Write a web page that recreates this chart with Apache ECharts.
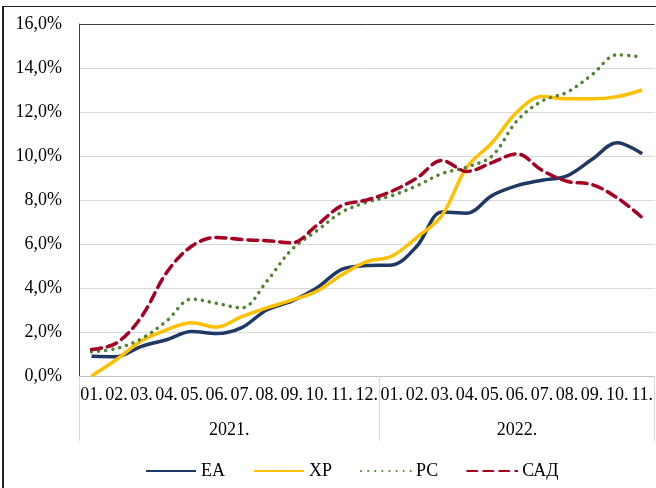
<!DOCTYPE html>
<html>
<head>
<meta charset="utf-8">
<script src="https://cdn.jsdelivr.net/npm/echarts@6/dist/echarts.min.js"></script>
<style>
  html, body { margin: 0; padding: 0; background: #fff; }
  #wrap { position: relative; width: 656px; height: 488px; overflow: hidden; }
  #frame { position: absolute; left: 2px; top: 6px; width: 800px; height: 600px;
           border-left: 2px solid #222; border-top: 1px solid #222; box-sizing: border-box; }
  #chart { position: absolute; left: 0; top: 0; width: 656px; height: 488px; }
</style>
</head>
<body>
<div id="wrap">
  <div id="frame"></div>
  <div id="chart"></div>
</div>
<script>
const months = ['01.','02.','03.','04.','05.','06.','07.','08.','09.','10.','11.','12.',
                '01.','02.','03.','04.','05.','06.','07.','08.','09.','10.','11.'];
const years = ['2021.', '2022.'];
const monthsPerYear = [12, 11];
const seriesNames = ['ЕА', 'ХР', 'РС', 'САД'];
const ea  = [0.9,0.88,1.35,1.65,2.02,1.93,2.2,3.0,3.4,4.0,4.85,5.02,5.05,5.9,7.45,7.4,8.2,8.65,8.9,9.1,9.85,10.6,10.1];
const xp  = [0.0,0.75,1.6,2.1,2.42,2.22,2.7,3.1,3.45,3.85,4.6,5.2,5.45,6.3,7.3,9.5,10.6,12.0,12.7,12.6,12.6,12.7,13.0];
const pc  = [1.1,1.25,1.7,2.5,3.5,3.3,3.1,4.3,5.75,6.6,7.45,7.9,8.2,8.65,9.2,9.5,10.0,11.6,12.5,12.9,13.7,14.6,14.5];
const cad = [1.2,1.5,2.7,4.7,5.9,6.3,6.2,6.15,6.05,6.85,7.75,8.0,8.4,9.0,9.8,9.3,9.7,10.1,9.35,8.85,8.7,8.1,7.2];
const yTicks = [0, 2, 4, 6, 8, 10, 12, 14, 16];

// year boundaries / centres derived from monthsPerYear
const bounds = [0];
monthsPerYear.forEach(n => bounds.push(bounds[bounds.length - 1] + n));
const centres = monthsPerYear.map((n, i) => bounds[i] + n / 2);

const font = 'Liberation Serif';
const fs = 18;
const chart = echarts.init(document.getElementById('chart'));
const smooth = 0.35;
chart.setOption({
  backgroundColor: 'transparent',
  animation: false,
  grid: { left: 79, top: 24, width: 579, height: 352, containLabel: false },
  legend: {
    left: 140, top: 457, itemWidth: 50, itemHeight: 14, itemGap: 28,
    itemStyle: { opacity: 0 },
    textStyle: { fontFamily: font, fontSize: fs, color: '#000' },
    data: seriesNames
  },
  xAxis: [{
    type: 'category', data: months, boundaryGap: true,
    axisLine: { show: true, lineStyle: { color: '#bfbfbf', width: 1 } },
    axisTick: { show: false },
    axisLabel: { interval: 0, margin: 10, fontFamily: font, fontSize: fs, color: '#000' }
  }, {
    type: 'value', min: 0, max: bounds[bounds.length - 1], position: 'bottom',
    axisLine: { show: false }, splitLine: { show: false },
    axisTick: { show: true, customValues: bounds, length: 65, lineStyle: { color: '#d9d9d9', width: 1 } },
    axisLabel: { show: true, customValues: centres, margin: 45, fontFamily: font, fontSize: fs, color: '#000',
      formatter: v => { const i = centres.indexOf(v); return i >= 0 ? years[i] : ''; } }
  }],
  yAxis: {
    type: 'value', min: yTicks[0], max: yTicks[yTicks.length - 1], interval: 2,
    axisLine: { show: true, lineStyle: { color: '#404040', width: 1 } },
    axisTick: { show: false },
    splitLine: { show: true, lineStyle: { color: yTicks.map((t, i) => i === yTicks.length - 1 ? '#404040' : '#d9d9d9'), width: 1 } },
    axisLabel: { margin: 17, fontFamily: font, fontSize: fs, color: '#000', padding: [5, 0, 0, 0],
      formatter: v => v.toFixed(1).replace('.', ',') + '%' }
  },
  series: [
    { name: seriesNames[0], type: 'line', data: ea, smooth: smooth, symbol: 'none', xAxisIndex: 0,
      lineStyle: { color: '#1f3864', width: 3.5 }, itemStyle: { color: '#1f3864' } },
    { name: seriesNames[1], type: 'line', data: xp, smooth: smooth, symbol: 'none', xAxisIndex: 0,
      lineStyle: { color: '#ffc000', width: 3.5 }, itemStyle: { color: '#ffc000' } },
    { name: seriesNames[2], type: 'line', data: pc, smooth: smooth, symbol: 'none', xAxisIndex: 0,
      lineStyle: { color: '#548235', width: 3.5, type: [0.1, 7], cap: 'round' }, itemStyle: { color: '#548235' } },
    { name: seriesNames[3], type: 'line', data: cad, smooth: smooth, symbol: 'none', xAxisIndex: 0,
      lineStyle: { color: '#a50021', width: 3.5, type: [10, 6], cap: 'round' }, itemStyle: { color: '#a50021' } }
  ]
});
</script>
</body>
</html>
